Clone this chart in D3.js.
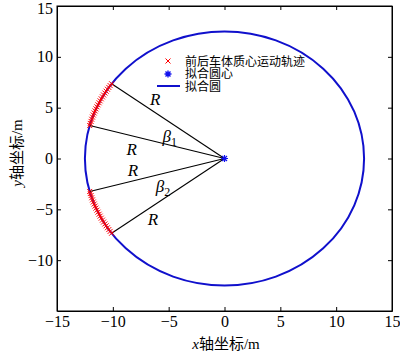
<!DOCTYPE html>
<html>
<head>
<meta charset="utf-8">
<script src="https://cdn.jsdelivr.net/npm/d3@7"></script>
<style>
body { margin: 0; background: #fff; }
</style>
</head>
<body>
<script>
// tick values
var xTicks = [-15, -10, -5, 0, 5, 10, 15];
var yTicks = [-10, -5, 0, 5, 10, 15];

// fitted circle: center and radius
var circleCenter = [0, 0];
var circleRadius = 12.5;

// front/rear body centroid track points (upper arc then lower arc)
var trackX = [-10.11, -10.24, -10.36, -10.48, -10.60, -10.71, -10.83, -10.93, -11.04, -11.14, -11.23,
              -11.33, -11.42, -11.51, -11.59, -11.67, -11.75, -11.82, -11.89, -11.95, -12.02, -12.07,
              -12.07, -12.02, -11.95, -11.89, -11.82, -11.75, -11.67, -11.59, -11.51, -11.42, -11.33,
              -11.23, -11.14, -11.04, -10.93, -10.83, -10.71, -10.60, -10.48, -10.36, -10.24, -10.11];
var trackY = [7.35, 7.17, 6.99, 6.81, 6.62, 6.44, 6.25, 6.06, 5.87, 5.67, 5.48,
              5.28, 5.08, 4.88, 4.68, 4.48, 4.28, 4.07, 3.86, 3.65, 3.45, 3.24,
              -3.24, -3.45, -3.65, -3.86, -4.07, -4.28, -4.48, -4.68, -4.88, -5.08, -5.28,
              -5.48, -5.67, -5.87, -6.06, -6.25, -6.44, -6.62, -6.81, -6.99, -7.17, -7.35];

// radius lines from center to arc ends
var spokeX = [-10.11, -12.07, -12.07, -10.11];
var spokeY = [7.35, 3.24, -3.24, -7.35];

// annotation labels: text and data position (baseline)
var labelText = ["R", "β1", "R", "R", "β2", "R"];
var labelX = [-6.2, -4.9, -8.3, -8.2, -5.5, -6.4];
var labelY = [5.3, 1.6, 0.3, -1.7, -3.3, -6.5];

var legendText = ["前后车体质心运动轨迹", "拟合圆心", "拟合圆"];

var serif = "'Liberation Serif', 'Times New Roman', 'DejaVu Serif', 'Noto Sans CJK SC', serif";
var width = 400, height = 353;
var margin = {left: 57, right: 8, top: 6, bottom: 42};

var svg = d3.select("body").append("svg")
    .attr("width", width)
    .attr("height", height)
    .style("font-family", serif);

var x = d3.scaleLinear().domain([-15, 15]).range([margin.left, width - margin.right]);
var y = d3.scaleLinear().domain([-15, 15]).range([height - margin.bottom, margin.top]);

var fmt = function(d) { return d < 0 ? "\u2212" + (-d) : d; };

// axes with inward ticks
svg.append("g")
    .attr("transform", "translate(0," + y(-15) + ")")
    .call(d3.axisBottom(x).tickValues(xTicks).tickSizeInner(-4).tickSizeOuter(0).tickPadding(5).tickFormat(fmt));
svg.append("g")
    .attr("transform", "translate(0," + y(15) + ")")
    .call(d3.axisTop(x).tickValues(xTicks).tickSizeInner(-4).tickSizeOuter(0).tickFormat(""));
var yAxisG = svg.append("g")
    .attr("transform", "translate(" + x(-15) + ",0)")
    .call(d3.axisLeft(y).tickValues(yTicks).tickSizeInner(-4).tickSizeOuter(0).tickPadding(4).tickFormat(fmt));
svg.append("g")
    .attr("transform", "translate(" + x(15) + ",0)")
    .call(d3.axisRight(y).tickValues(yTicks).tickSizeInner(-4).tickSizeOuter(0).tickFormat(""));

svg.selectAll(".domain").attr("stroke", "#000");
svg.selectAll(".tick line").attr("stroke", "#000");
svg.selectAll("g").attr("font-family", serif);
svg.selectAll(".tick text")
    .attr("font-family", serif)
    .style("font-family", serif)
    .style("font-size", "16px")
    .attr("fill", "#000");
// keep the top label inside the page
yAxisG.selectAll(".tick text").filter(function(d) { return d === 15; }).attr("dy", "0.45em");

// box
svg.append("rect")
    .attr("x", x(-15)).attr("y", y(15))
    .attr("width", x(15) - x(-15)).attr("height", y(-15) - y(15))
    .attr("fill", "none").attr("stroke", "#000");

// fitted circle
svg.append("ellipse")
    .attr("cx", x(circleCenter[0]))
    .attr("cy", y(circleCenter[1]))
    .attr("rx", x(circleRadius) - x(0))
    .attr("ry", y(0) - y(circleRadius))
    .attr("fill", "none")
    .attr("stroke", "#1010cc")
    .attr("stroke-width", 2);

// spokes
svg.selectAll(".spoke")
    .data(spokeX)
    .enter().append("line")
    .attr("class", "spoke")
    .attr("x1", x(circleCenter[0]))
    .attr("y1", y(circleCenter[1]))
    .attr("x2", function(d) { return x(d); })
    .attr("y2", function(d, i) { return y(spokeY[i]); })
    .attr("stroke", "#000")
    .attr("stroke-width", 1.1);

// track crosses
var cross = "M-2.5,-2.5L2.5,2.5M-2.5,2.5L2.5,-2.5";
svg.selectAll(".track")
    .data(trackX)
    .enter().append("path")
    .attr("class", "track")
    .attr("d", cross)
    .attr("transform", function(d, i) { return "translate(" + x(d) + "," + y(trackY[i]) + ")"; })
    .attr("stroke", "#ff0000")
    .attr("stroke-width", 1)
    .attr("fill", "none");

// center asterisk
var star = "M-3.5,0L3.5,0M0,-3.5L0,3.5M-2.5,-2.5L2.5,2.5M-2.5,2.5L2.5,-2.5";
svg.append("path")
    .attr("d", star)
    .attr("transform", "translate(" + x(circleCenter[0]) + "," + y(circleCenter[1]) + ")")
    .attr("stroke", "#1010ee")
    .attr("stroke-width", 1.2);

// R / beta labels
labelText.forEach(function(t, i) {
    var tx = svg.append("text")
        .attr("x", x(labelX[i]))
        .attr("y", y(labelY[i]))
        .attr("text-anchor", "middle")
        .style("font-size", "17px")
        .style("font-style", "italic");
    if (t.length > 1) {
        tx.append("tspan").text(t[0]);
        tx.append("tspan").attr("dy", 4).style("font-size", "12px").style("font-style", "normal").text(t.slice(1));
    } else {
        tx.text(t);
    }
});

// legend
var lg = svg.append("g");
lg.append("path").attr("d", "M-2.5,-2.5L2.5,2.5M-2.5,2.5L2.5,-2.5")
    .attr("transform", "translate(168,61)").attr("stroke", "#ff0000").attr("fill", "none");
lg.append("path").attr("d", star)
    .attr("transform", "translate(168,74)").attr("stroke", "#1010ee").attr("stroke-width", 1.4);
lg.append("line").attr("x1", 157).attr("x2", 180).attr("y1", 86).attr("y2", 86)
    .attr("stroke", "#1010cc").attr("stroke-width", 2);
lg.selectAll("text")
    .data(legendText)
    .enter().append("text")
    .attr("x", 185)
    .attr("y", function(d, i) { return 65.5 + i * 12.5; })
    .style("font-size", "12px")
    .attr("fill", "#000")
    .text(function(d) { return d; });

// axis titles
var xt = svg.append("text")
    .attr("x", 226)
    .attr("y", 349)
    .attr("text-anchor", "middle")
    .style("font-size", "15px");
xt.append("tspan").style("font-style", "italic").text("x");
xt.append("tspan").text("轴坐标/m");

var yt = svg.append("text")
    .attr("transform", "translate(22,153) rotate(-90)")
    .attr("text-anchor", "middle")
    .style("font-size", "15px");
yt.append("tspan").style("font-style", "italic").text("y");
yt.append("tspan").text("轴坐标/m");
</script>
</body>
</html>
